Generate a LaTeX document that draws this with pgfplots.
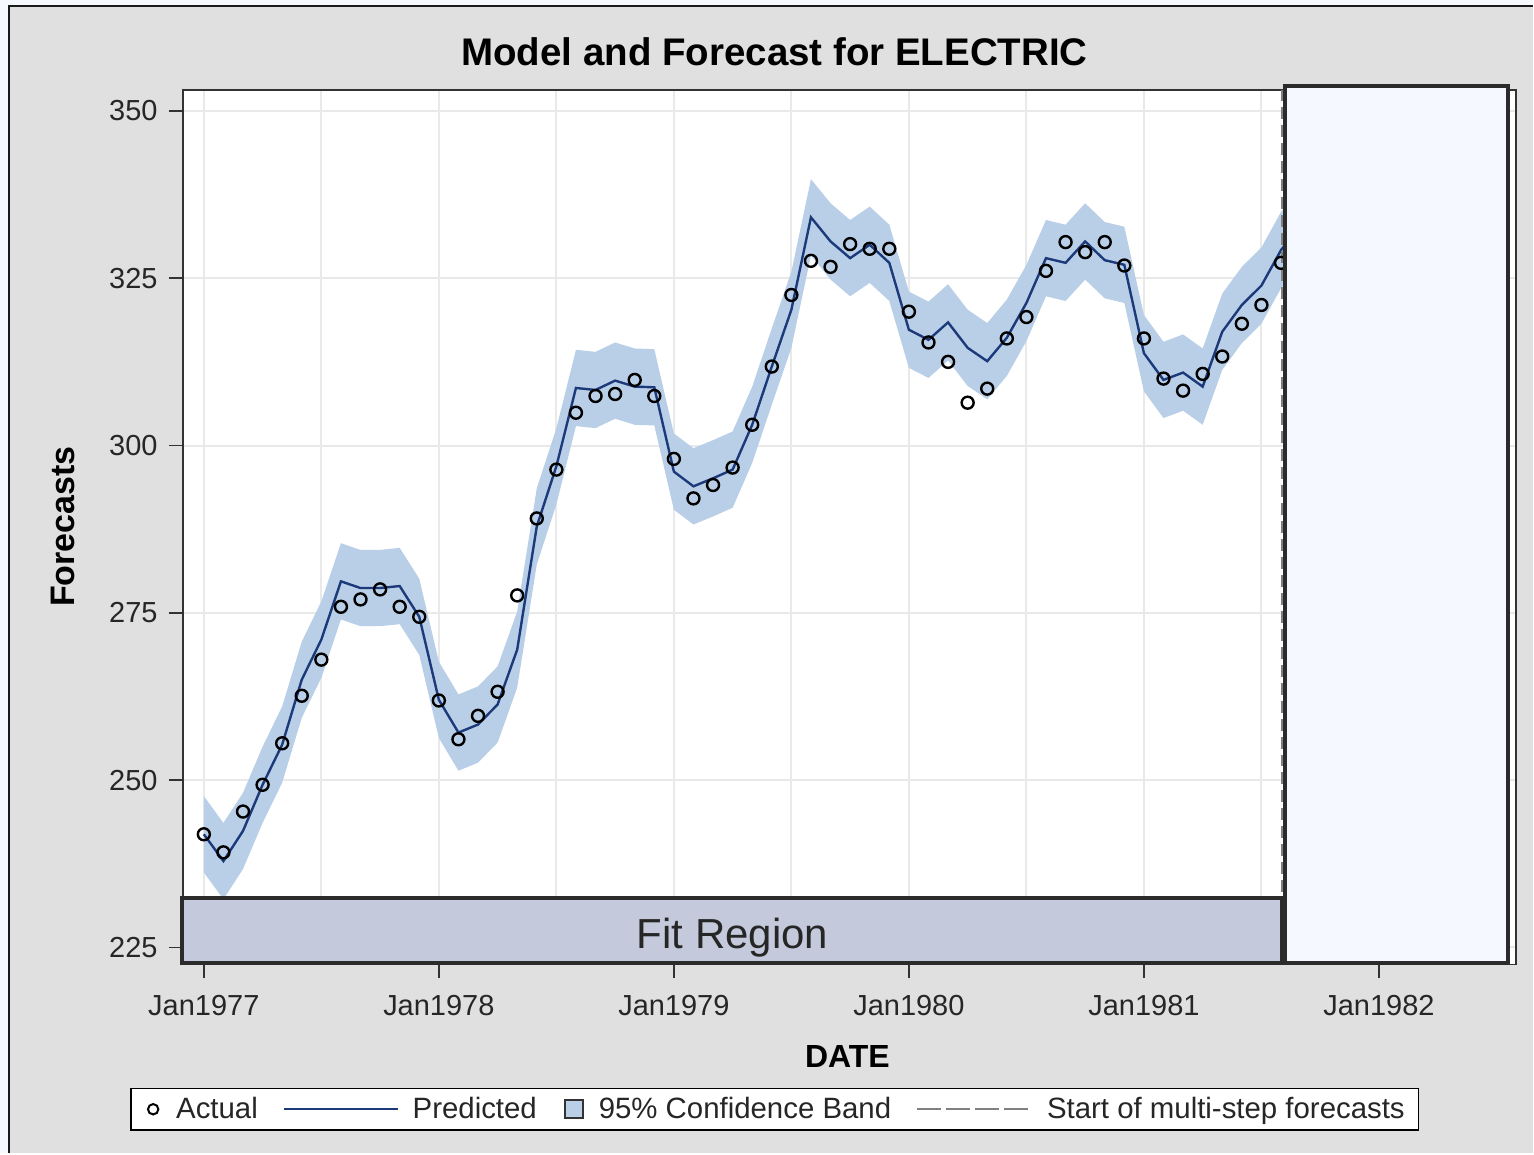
\documentclass[border=0pt]{standalone}
\usepackage{fontspec}
\setmainfont{Liberation Sans}
\usepackage{pgfplots}
\pgfplotsset{compat=1.18}
\usepackage{pgfplotstable}

\definecolor{pagebg}{HTML}{F6F9FD}
\definecolor{bggray}{HTML}{E0E0E0}
\definecolor{framec}{HTML}{1A1A1A}
\definecolor{bandc}{HTML}{B9CFE8}
\definecolor{predc}{HTML}{1C3A7A}
\definecolor{fitc}{HTML}{C4CADB}
\definecolor{fcbox}{HTML}{F5F9FF}
\definecolor{boxline}{HTML}{2B2B2B}
\definecolor{gridc}{HTML}{E9E9E9}
\definecolor{axisc}{HTML}{333333}
\definecolor{txtc}{HTML}{262626}

% month index (0 = Jan1977), actual, predicted
\pgfplotstableread{
m act pred
0 241.9 241.9
1 239.2 237.9
2 245.3 242.4
3 249.3 249.3
4 255.5 255.3
5 262.6 265.0
6 268.0 271.0
7 275.9 279.7
8 277.0 278.7
9 278.5 278.7
10 275.9 279.0
11 274.4 274.4
12 261.9 262.0
13 256.1 257.1
14 259.6 258.3
15 263.2 261.3
16 277.6 269.5
17 289.1 287.9
18 296.4 296.9
19 304.9 308.6
20 307.4 308.3
21 307.7 309.7
22 309.8 308.8
23 307.4 308.7
24 298.0 296.1
25 292.1 293.9
26 294.1 295.1
27 296.7 296.4
28 303.1 303.1
29 311.8 311.8
30 322.5 320.3
31 327.6 334.1
32 326.7 330.5
33 330.1 328.0
34 329.4 330.0
35 329.4 327.3
36 320.0 317.3
37 315.4 315.8
38 312.5 318.4
39 306.4 314.6
40 308.5 312.6
41 316.0 316.1
42 319.2 321.3
43 326.1 328.0
44 330.4 327.3
45 328.9 330.5
46 330.4 327.7
47 326.9 327.0
48 316.0 313.8
49 310.0 309.8
50 308.2 310.9
51 310.7 308.8
52 313.3 317.0
53 318.2 321.0
54 321.0 323.9
55 327.3 329.2
56 330.0 333.0
}\elec

% 95% band outline: upper limits forward, lower limits backward
\pgfplotstableread{
m v
0 247.6
1 243.6
2 248.1
3 255.0
4 261.0
5 270.7
6 276.7
7 285.4
8 284.4
9 284.4
10 284.7
11 280.1
12 267.7
13 262.8
14 264.0
15 267.0
16 275.2
17 293.6
18 302.6
19 314.3
20 314.0
21 315.4
22 314.5
23 314.4
24 301.8
25 299.6
26 300.8
27 302.1
28 308.8
29 317.5
30 326.0
31 339.8
32 336.2
33 333.7
34 335.7
35 333.0
36 323.0
37 321.5
38 324.1
39 320.3
40 318.3
41 321.8
42 327.0
43 333.7
44 333.0
45 336.2
46 333.4
47 332.7
48 319.5
49 315.5
50 316.6
51 314.5
52 322.7
53 326.7
54 329.6
55 334.9
56 338.7
56 327.3
55 323.5
54 318.2
53 315.3
52 311.3
51 303.1
50 305.2
49 304.1
48 308.1
47 321.3
46 322.0
45 324.8
44 321.6
43 322.3
42 315.6
41 310.4
40 306.9
39 308.9
38 312.7
37 310.1
36 311.6
35 321.6
34 324.3
33 322.3
32 324.8
31 328.4
30 314.6
29 306.1
28 297.4
27 290.7
26 289.4
25 288.2
24 290.4
23 303.0
22 303.1
21 304.0
20 302.6
19 302.9
18 291.2
17 282.2
16 263.8
15 255.6
14 252.6
13 251.4
12 256.3
11 268.7
10 273.3
9 273.0
8 273.0
7 274.0
6 265.3
5 259.3
4 249.6
3 243.6
2 236.7
1 232.2
0 236.2
}\band

\begin{document}
\begin{tikzpicture}
\begin{scope}[yshift=577pt,x=0.5pt,y=-0.5pt]
\fill[pagebg] (0,0) rectangle (1534,1154);
\fill[bggray] (8,5) rectangle (1534,1154);
\draw[framec,line width=1pt] (9,1154) -- (9,6) -- (1534,6);
\end{scope}

\begin{axis}[
  at={(91.5pt,94.5pt)}, anchor=south west,
  scale only axis, width=667pt, height=437.5pt,
  xmin=-1.07, xmax=67, ymin=222.46, ymax=353.14,
  axis background/.style={fill=white},
  axis line style={draw=axisc, line width=0.75pt},
  tick style={draw=axisc, line width=0.75pt},
  tick align=outside, major tick length=7pt, minor tick length=0pt,
  xtick pos=bottom, ytick pos=left,
  xtick={0,12,24,36,48,60},
  xticklabels={Jan1977,Jan1978,Jan1979,Jan1980,Jan1981,Jan1982},
  minor xtick={6,18,30,42,54,66},
  ytick={225,250,275,300,325,350},
  xmajorgrids, xminorgrids, ymajorgrids,
  major grid style={draw=gridc, line width=1pt},
  minor grid style={draw=gridc, line width=1pt},
  /pgf/number format/assume math mode=true,
  ticklabel style={font=\fontsize{14.5}{16}\selectfont, text=txtc},
  yticklabel style={inner sep=0pt}, yticklabel shift=5.5pt,
  xticklabel style={inner sep=0pt}, xticklabel shift=8.5pt,
  legend cell align=left,
  legend style={at={(0.4441,-0.1657)}, anchor=center, draw=black,
    line width=0.75pt, fill=white, legend columns=4,
    inner xsep=7pt, inner ysep=4pt, column sep=0pt,
    nodes={inner sep=0pt, draw=none, fill=none, font=\fontsize{14.7}{16}\selectfont, text=txtc}},
]
\addlegendimage{legend image code/.code={
  \path[draw=none,fill=none] (0pt,-6.5pt) rectangle (15.5pt,6.5pt);
  \draw[black,fill=none,line width=1pt] (4pt,0pt) circle (2.6pt);}}
\addlegendentry{Actual}
\addlegendimage{legend image code/.code={
  \path[draw=none,fill=none] (0pt,-6.5pt) rectangle (77.5pt,6.5pt);
  \draw[predc,line width=1.1pt] (13pt,0pt) -- (70pt,0pt);}}
\addlegendentry{Predicted}
\addlegendimage{legend image code/.code={
  \path[draw=none,fill=none] (0pt,-6.5pt) rectangle (31pt,6.5pt);
  \draw[fill=bandc,draw=black!80,line width=0.8pt] (14pt,-4.5pt) rectangle (23pt,4.5pt);}}
\addlegendentry{95\% Confidence Band}
\addlegendimage{legend image code/.code={
  \path[draw=none,fill=none] (0pt,-6.5pt) rectangle (78pt,6.5pt);
  \draw[black!50,fill=none,line width=0.8pt,dash pattern=on 12pt off 2.5pt] (13pt,0pt) -- (68.5pt,0pt);}}
\addlegendentry{Start of multi-step forecasts}

\addplot[fill=bandc, draw=none, forget plot] table[x=m, y=v] {\band} -- cycle;
\addplot[predc, line width=1.2pt, forget plot] table[x=m, y=pred] {\elec};
\addplot[only marks, mark=o, mark size=3pt, mark options={draw=black, line width=1.2pt}, forget plot] table[x=m, y=act] {\elec};
\addplot[black!50, line width=0.8pt, dash pattern=on 6pt off 3pt, forget plot] coordinates {(55.05,222.46) (55.05,353.14)};
\end{axis}

\begin{scope}[yshift=577pt,x=0.5pt,y=-0.5pt]
\filldraw[fill=fitc, draw=boxline, line width=2pt] (182,899) rectangle (1283,964);
\filldraw[fill=fcbox, draw=boxline, line width=2pt] (1286,86) rectangle (1509,964);
\node[font=\fontsize{21}{24}\selectfont, text=black!85] at (733,938) {Fit Region};
\node[font=\bfseries\fontsize{19.25}{22}\selectfont, text=black] at (775,52) {Model and Forecast for ELECTRIC};
\node[rotate=90, font=\bfseries\fontsize{17}{19}\selectfont, text=black] at (63,527) {Forecasts};
\node[font=\bfseries\fontsize{16}{18}\selectfont, text=black] at (848,1057) {DATE};
\end{scope}
\end{tikzpicture}
\end{document}
